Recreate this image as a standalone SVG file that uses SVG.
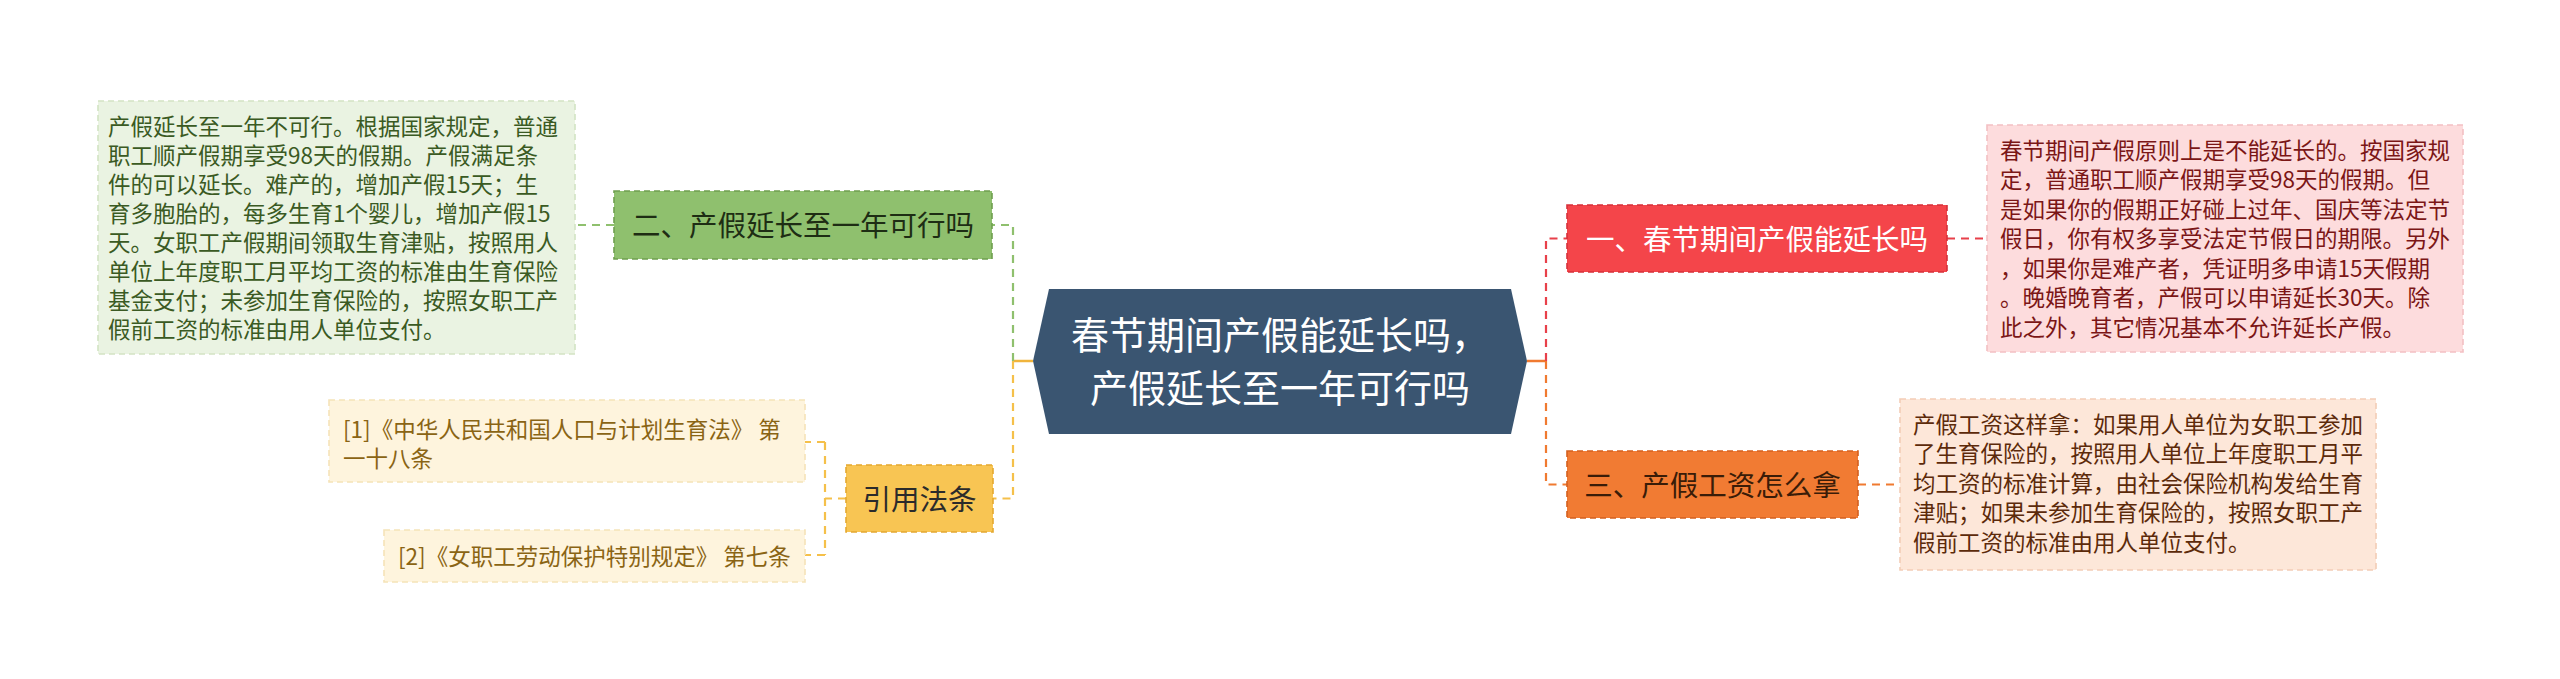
<svg xmlns="http://www.w3.org/2000/svg" width="2560" height="679" viewBox="0 0 2560 679">
<style>
text{font-family:"Noto Sans CJK SC","Microsoft YaHei",sans-serif;}
.body{font-size:22.5px;}
.node{font-size:28.5px;text-anchor:middle;}
.conn{fill:none;stroke-width:2.2;stroke-dasharray:8 6;}
.solid{fill:none;stroke-width:2.5;}
.bx{stroke-width:1.6;stroke-dasharray:6 4;}
</style>
<rect width="2560" height="679" fill="#ffffff"/>
<g id="connectors">
<path class="solid" d="M1033,361 H1013" stroke="#f0b43c"/>
<path class="conn" d="M1013,361 V225 H992" stroke="#8fc06e"/>
<path class="conn" d="M1013,361 V498.5 H993" stroke="#f5c04a"/>
<path class="conn" d="M614,225 H575" stroke="#8fc06e"/>
<path class="conn" d="M846,498.5 H825 M825,442 V555 M825,442 H805 M825,555 H805" stroke="#f5c04a"/>
<path class="solid" d="M1527,361 H1546" stroke="#f07a30"/>
<path class="conn" d="M1546,361 V238.5 H1567" stroke="#e8404a"/>
<path class="conn" d="M1546,361 V484.5 H1567" stroke="#f07a30"/>
<path class="conn" d="M1947,238.5 H1987" stroke="#e8404a"/>
<path class="conn" d="M1858,484.5 H1900" stroke="#f07a30"/>
</g>
<g id="center">
<polygon points="1049,289 1511,289 1527,361 1511,434 1049,434 1033,361" fill="#3a5571"/>
<text x="1280" y="349" font-size="38" fill="#ffffff" text-anchor="middle">春节期间产假能延长吗，</text>
<text x="1280" y="402" font-size="38" fill="#ffffff" text-anchor="middle">产假延长至一年可行吗</text>
</g>
<g id="node-green">
<rect class="bx" x="614" y="191" width="378" height="68" fill="#8fc06e" stroke="#6f9f4f"/>
<text class="node" x="803" y="236" fill="#1e2d14">二、产假延长至一年可行吗</text>
</g>
<g id="box-green">
<rect class="bx" x="98" y="101" width="477" height="253" fill="#eaf3e2" stroke="#d3e4c4"/>
<g class="body" fill="#3a5a23">
<text x="108" y="134.5">产假延长至一年不可行。根据国家规定，普通</text>
<text x="108" y="163.5">职工顺产假期享受98天的假期。产假满足条</text>
<text x="108" y="192.5">件的可以延长。难产的，增加产假15天；生</text>
<text x="108" y="221.5">育多胞胎的，每多生育1个婴儿，增加产假15</text>
<text x="108" y="250.5">天。女职工产假期间领取生育津贴，按照用人</text>
<text x="108" y="279.5">单位上年度职工月平均工资的标准由生育保险</text>
<text x="108" y="308.5">基金支付；未参加生育保险的，按照女职工产</text>
<text x="108" y="337.5">假前工资的标准由用人单位支付。</text>
</g>
</g>
<g id="node-yellow">
<rect class="bx" x="846" y="465" width="147" height="67" fill="#f8c553" stroke="#e4a830"/>
<text class="node" x="919.5" y="509.5" fill="#2b2b2b">引用法条</text>
</g>
<g id="ref-1">
<rect class="bx" x="329" y="400" width="476" height="82" fill="#fef4dd" stroke="#f5e3b8"/>
<text class="body" x="343" y="437.5" fill="#8a6414">[1]《中华人民共和国人口与计划生育法》 第</text>
<text class="body" x="343" y="467" fill="#8a6414">一十八条</text>
</g>
<g id="ref-2">
<rect class="bx" x="384" y="530" width="421" height="52" fill="#fef4dd" stroke="#f5e3b8"/>
<text class="body" x="398" y="564.5" fill="#8a6414">[2]《女职工劳动保护特别规定》 第七条</text>
</g>
<g id="node-red">
<rect class="bx" x="1567" y="205" width="380" height="67" fill="#f4454a" stroke="#d6303a"/>
<text class="node" x="1757" y="249.5" fill="#ffffff">一、春节期间产假能延长吗</text>
</g>
<g id="box-pink">
<rect class="bx" x="1987" y="125" width="476" height="227" fill="#fddcdd" stroke="#f3c0c3"/>
<g class="body" fill="#7b1616">
<text x="2000" y="158.5">春节期间产假原则上是不能延长的。按国家规</text>
<text x="2000" y="188">定，普通职工顺产假期享受98天的假期。但</text>
<text x="2000" y="217.5">是如果你的假期正好碰上过年、国庆等法定节</text>
<text x="2000" y="247">假日，你有权多享受法定节假日的期限。另外</text>
<text x="2000" y="276.5">，如果你是难产者，凭证明多申请15天假期</text>
<text x="2000" y="306">。晚婚晚育者，产假可以申请延长30天。除</text>
<text x="2000" y="335.5">此之外，其它情况基本不允许延长产假。</text>
</g>
</g>
<g id="node-orange">
<rect class="bx" x="1567" y="451" width="291" height="67" fill="#f17b33" stroke="#d4601f"/>
<text class="node" x="1712.5" y="495.5" fill="#3a1c08">三、产假工资怎么拿</text>
</g>
<g id="box-peach">
<rect class="bx" x="1900" y="399" width="476" height="171" fill="#fde7d9" stroke="#f3cdb6"/>
<g class="body" fill="#5c2a0a">
<text x="1913" y="432.5">产假工资这样拿：如果用人单位为女职工参加</text>
<text x="1913" y="462">了生育保险的，按照用人单位上年度职工月平</text>
<text x="1913" y="491.5">均工资的标准计算，由社会保险机构发给生育</text>
<text x="1913" y="521">津贴；如果未参加生育保险的，按照女职工产</text>
<text x="1913" y="550.5">假前工资的标准由用人单位支付。</text>
</g>
</g>
</svg>
